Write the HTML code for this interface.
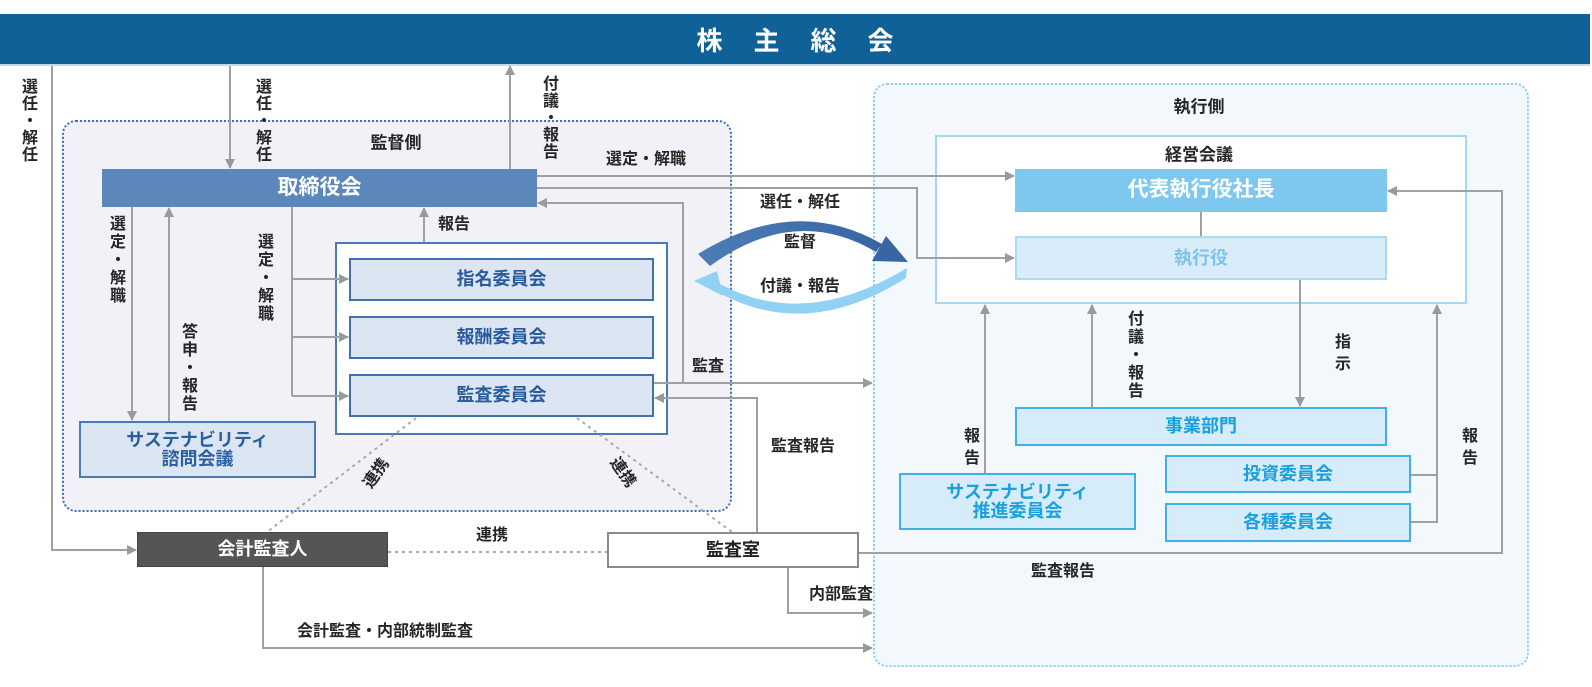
<!DOCTYPE html>
<html lang="ja">
<head>
<meta charset="utf-8">
<style>
  html,body{margin:0;padding:0;background:#fff;}
  body{width:1592px;height:687px;position:relative;overflow:hidden;
       font-family:"Liberation Sans","Noto Sans CJK JP",sans-serif;}
  .abs{position:absolute;box-sizing:border-box;}
  .box{position:absolute;box-sizing:border-box;display:flex;align-items:center;justify-content:center;
       text-align:center;font-weight:700;line-height:1.05;white-space:nowrap;}
  .h{position:absolute;font-size:16px;font-weight:700;color:#262626;white-space:nowrap;
     transform:translate(-50%,-50%);line-height:1;}
  .v{position:absolute;writing-mode:vertical-rl;text-orientation:upright;font-size:16px;line-height:16px;
     font-weight:700;color:#262626;letter-spacing:1px;white-space:nowrap;}
  svg{position:absolute;left:0;top:0;}
</style>
</head>
<body>

<!-- Regions -->
<div class="abs" style="left:62px;top:120px;width:670px;height:392px;background:#f1f1f7;border:2px dotted #3f6fbd;border-radius:14px;"></div>
<div class="abs" style="left:873px;top:83px;width:656px;height:584px;background:#f3f8fc;border:2px dotted #8ccbef;border-radius:14px;"></div>

<!-- top band -->
<div class="abs" style="left:0;top:14px;width:1590px;height:50px;background:#0f6198;"></div>
<div class="abs" style="left:0;top:64px;width:1590px;height:2px;background:#c8d8ea;"></div>
<div class="abs" style="left:0;top:14px;width:1590px;height:50px;display:flex;align-items:center;justify-content:center;color:#fff;font-size:26px;font-weight:700;letter-spacing:31px;padding-left:31px;box-sizing:border-box;">株主総会</div>

<!-- 経営会議 frame -->
<div class="abs" style="left:935px;top:135px;width:532px;height:169px;background:#fff;border:2px solid #a3d7f4;"></div>

<!-- committee container -->
<div class="abs" style="left:335px;top:242px;width:333px;height:193px;background:#fff;border:2px solid #4a7ab8;"></div>

<svg width="1592" height="687" viewBox="0 0 1592 687">
  <defs>
    <marker id="ar" viewBox="0 0 10 10" refX="9" refY="5" markerWidth="10" markerHeight="10" markerUnits="userSpaceOnUse" orient="auto">
      <path d="M0,0 L10,5 L0,10 z" fill="#9a9a9a"/>
    </marker>
    <linearGradient id="gu" x1="0" y1="0" x2="1" y2="0">
      <stop offset="0" stop-color="#4d7db6"/>
      <stop offset="1" stop-color="#3766a3"/>
    </linearGradient>
  </defs>
  <g fill="none" stroke="#a0a0a0" stroke-width="2">
    <path d="M52,66 V550 H136" marker-end="url(#ar)"/>
    <path d="M230,66 V168" marker-end="url(#ar)"/>
    <path d="M510,169 V66" marker-end="url(#ar)"/>
    <path d="M537,176 H1014" marker-end="url(#ar)"/>
    <path d="M537,188 H917 V258 H1014" marker-end="url(#ar)"/>
    <path d="M683,383 V203 H538" marker-end="url(#ar)"/>
    <path d="M654,383 H872" marker-end="url(#ar)"/>
    <path d="M757,532 V398 H655" marker-end="url(#ar)"/>
    <path d="M424,242 V208" marker-end="url(#ar)"/>
    <path d="M292,207 V396"/>
    <path d="M292,279 H348" marker-end="url(#ar)"/>
    <path d="M292,337 H348" marker-end="url(#ar)"/>
    <path d="M292,396 H348" marker-end="url(#ar)"/>
    <path d="M132,207 V420" marker-end="url(#ar)"/>
    <path d="M169,421 V208" marker-end="url(#ar)"/>
    <path d="M263,567 V648 H872" marker-end="url(#ar)"/>
    <path d="M788,568 V613 H872" marker-end="url(#ar)"/>
    <path d="M859,553 H1502 V191 H1388" marker-end="url(#ar)"/>
    <path d="M1201,212 V236"/>
    <path d="M1300,280 V406" marker-end="url(#ar)"/>
    <path d="M985,473 V305" marker-end="url(#ar)"/>
    <path d="M1092,407 V305" marker-end="url(#ar)"/>
    <path d="M1411,475 H1437"/>
    <path d="M1411,522 H1437 V305" marker-end="url(#ar)"/>
  </g>
  <g fill="none" stroke="#a8a8a8" stroke-width="2" stroke-dasharray="3,4">
    <path d="M388,552 H607"/>
    <path d="M416,418 L267,532"/>
    <path d="M577,418 L732,532"/>
  </g>
  <!-- curved arrows -->
  <path d="M698,254 Q795,194 882,244 L876,252 Q795,204 710,266 Z" fill="url(#gu)"/>
  <polygon points="886,236 872,261 908,262" fill="#3766a3"/>
  <path d="M907,268 L906,278 Q805,342 716,291 L720,284 Q805,330 907,268 Z" fill="#91d1f3"/>
  <polygon points="694,281 717,271 723,296" fill="#91d1f3"/>
</svg>

<!-- Supervisory side boxes -->
<div class="box" style="left:102px;top:169px;width:435px;height:38px;background:#5b87ba;color:#fff;font-size:21px;">取締役会</div>
<div class="box" style="left:349px;top:258px;width:305px;height:43px;background:#dce6f3;border:2px solid #3f70b0;color:#285a9c;font-size:18px;">指名委員会</div>
<div class="box" style="left:349px;top:316px;width:305px;height:43px;background:#dce6f3;border:2px solid #3f70b0;color:#285a9c;font-size:18px;">報酬委員会</div>
<div class="box" style="left:349px;top:374px;width:305px;height:43px;background:#dce6f3;border:2px solid #3f70b0;color:#285a9c;font-size:18px;">監査委員会</div>
<div class="box" style="left:79px;top:421px;width:237px;height:57px;background:#dce6f3;border:2px solid #4a7ab8;color:#2a5fa0;font-size:18px;flex-direction:column;">サステナビリティ<br>諮問会議</div>

<div class="box" style="left:137px;top:532px;width:251px;height:35px;background:#555;border:1px solid #444;color:#fff;font-size:18px;">会計監査人</div>
<div class="box" style="left:607px;top:532px;width:252px;height:36px;background:#fff;border:2px solid #8a8a8a;color:#222;font-size:18px;">監査室</div>

<!-- Executive side boxes -->
<div class="box" style="left:1015px;top:169px;width:372px;height:43px;background:#7ec8ef;color:#fff;font-size:21px;">代表執行役社長</div>
<div class="box" style="left:1015px;top:236px;width:372px;height:44px;background:#d8edf9;border:2px solid #a9dbf5;color:#7cc4ec;font-size:18px;">執行役</div>
<div class="box" style="left:1015px;top:407px;width:372px;height:39px;background:#d6ecfa;border:2px solid #3fb0ea;color:#1a9fdf;font-size:18px;">事業部門</div>
<div class="box" style="left:1165px;top:455px;width:246px;height:38px;background:#d6ecfa;border:2px solid #3fb0ea;color:#1a9fdf;font-size:18px;">投資委員会</div>
<div class="box" style="left:1165px;top:503px;width:246px;height:39px;background:#d6ecfa;border:2px solid #3fb0ea;color:#1a9fdf;font-size:18px;">各種委員会</div>
<div class="box" style="left:899px;top:473px;width:237px;height:57px;background:#d6ecfa;border:2px solid #3fb0ea;color:#1a9fdf;font-size:18px;flex-direction:column;">サステナビリティ<br>推進委員会</div>

<!-- horizontal labels -->
<div class="h" style="left:396px;top:143px;font-size:17px;">監督側</div>
<div class="h" style="left:1199px;top:107px;font-size:17px;">執行側</div>
<div class="h" style="left:1199px;top:155px;font-size:17px;">経営会議</div>
<div class="h" style="left:454px;top:225px;">報告</div>
<div class="h" style="left:646px;top:160px;">選定・解職</div>
<div class="h" style="left:800px;top:203px;">選任・解任</div>
<div class="h" style="left:800px;top:243px;">監督</div>
<div class="h" style="left:800px;top:287px;">付議・報告</div>
<div class="h" style="left:708px;top:367px;">監査</div>
<div class="h" style="left:803px;top:447px;">監査報告</div>
<div class="h" style="left:492px;top:536px;">連携</div>
<div class="h" style="left:841px;top:595px;">内部監査</div>
<div class="h" style="left:385px;top:632px;">会計監査・内部統制監査</div>
<div class="h" style="left:1063px;top:572px;">監査報告</div>
<div class="h" style="left:377px;top:474px;transform:translate(-50%,-50%) rotate(-55deg);">連携</div>
<div class="h" style="left:622px;top:473px;transform:translate(-50%,-50%) rotate(55deg);">連携</div>

<!-- vertical labels -->
<div class="v" style="left:19px;top:78px;">選任・解任</div>
<div class="v" style="left:253px;top:78px;">選任・解任</div>
<div class="v" style="left:540px;top:75px;">付議・報告</div>
<div class="v" style="left:107px;top:215px;letter-spacing:2px;">選定・解職</div>
<div class="v" style="left:179px;top:323px;letter-spacing:2px;">答申・報告</div>
<div class="v" style="left:255px;top:233px;letter-spacing:2px;">選定・解職</div>
<div class="v" style="left:1125px;top:310px;letter-spacing:2px;">付議・報告</div>
<div class="v" style="left:1332px;top:333px;letter-spacing:6px;">指示</div>
<div class="v" style="left:961px;top:427px;letter-spacing:6px;">報告</div>
<div class="v" style="left:1459px;top:427px;letter-spacing:6px;">報告</div>

</body>
</html>
